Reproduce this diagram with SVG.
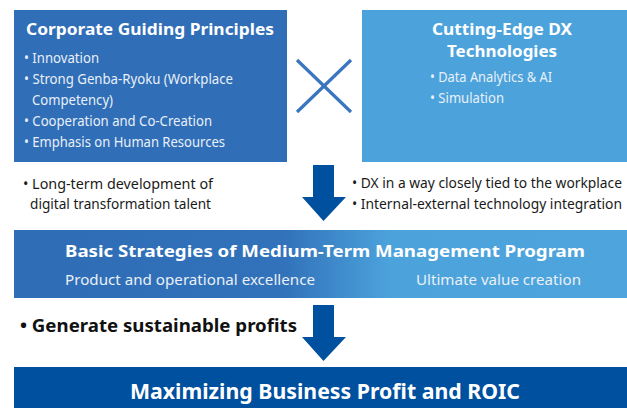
<svg xmlns="http://www.w3.org/2000/svg" width="627" height="408" viewBox="0 0 627 408">
  <style>
    .t { font-family: "Noto Sans", "Open Sans", "DejaVu Sans", sans-serif; }
    .title { font-weight: bold; fill: #ffffff; font-size: 16px; }
    .body { fill: #e9f0f8; font-size: 15px; }
    .dark { fill: #1a1a1a; font-size: 15px; }
    .arrow { fill: #0050a0; }
  </style>
  <defs>
    <linearGradient id="gStrat" x1="0" y1="0" x2="1" y2="0">
      <stop offset="0" stop-color="#2f6db6"/>
      <stop offset="0.43" stop-color="#3172ba"/>
      <stop offset="0.6" stop-color="#4ca3dc"/>
      <stop offset="1" stop-color="#4ea5dd"/>
    </linearGradient>
  </defs>

  <rect width="627" height="408" fill="#ffffff"/>

  <g id="corporate-guiding-principles">
    <rect x="14" y="10" width="273" height="152" fill="#306eb7"/>
    <text class="t title" x="26" y="35" textLength="248" lengthAdjust="spacingAndGlyphs">Corporate Guiding Principles</text>
    <text class="t body" x="24" y="63" textLength="75" lengthAdjust="spacingAndGlyphs">• Innovation</text>
    <text class="t body" x="24" y="84" textLength="209" lengthAdjust="spacingAndGlyphs">• Strong Genba-Ryoku (Workplace</text>
    <text class="t body" x="32" y="105" textLength="81" lengthAdjust="spacingAndGlyphs">Competency)</text>
    <text class="t body" x="24" y="126" textLength="188" lengthAdjust="spacingAndGlyphs">• Cooperation and Co-Creation</text>
    <text class="t body" x="24" y="147" textLength="201" lengthAdjust="spacingAndGlyphs">• Emphasis on Human Resources</text>
  </g>

  <g id="cross">
    <line x1="297" y1="60" x2="351" y2="112" stroke="#3a76bf" stroke-width="3.2"/>
    <line x1="297" y1="112" x2="351" y2="60" stroke="#3a76bf" stroke-width="3.2"/>
  </g>

  <g id="cutting-edge-dx">
    <rect x="362" y="10" width="280" height="152" fill="#4ca3dc"/>
    <text class="t title" x="432" y="35" textLength="140" lengthAdjust="spacingAndGlyphs">Cutting-Edge DX</text>
    <text class="t title" x="447" y="57" textLength="110" lengthAdjust="spacingAndGlyphs">Technologies</text>
    <text class="t body" x="430" y="82" textLength="122" lengthAdjust="spacingAndGlyphs">• Data Analytics &amp; AI</text>
    <text class="t body" x="430" y="103" textLength="74" lengthAdjust="spacingAndGlyphs">• Simulation</text>
  </g>

  <g id="notes-left">
    <text class="t dark" x="23" y="189" textLength="190" lengthAdjust="spacingAndGlyphs">• Long-term development of</text>
    <text class="t dark" x="30" y="209" textLength="181" lengthAdjust="spacingAndGlyphs">digital transformation talent</text>
  </g>

  <g id="notes-right">
    <text class="t dark" x="352" y="188" font-size="13.5" textLength="270" lengthAdjust="spacingAndGlyphs">• DX in a way closely tied to the workplace</text>
    <text class="t dark" x="352" y="209" font-size="13.5" textLength="270" lengthAdjust="spacingAndGlyphs">• Internal-external technology integration</text>
  </g>

  <g id="basic-strategies">
    <rect x="14" y="230" width="628" height="68" fill="url(#gStrat)"/>
    <text class="t title" x="65" y="257" font-size="17" textLength="520" lengthAdjust="spacingAndGlyphs">Basic Strategies of Medium-Term Management Program</text>
    <text class="t body" x="65" y="285" font-size="16" textLength="250" lengthAdjust="spacingAndGlyphs">Product and operational excellence</text>
    <text class="t body" x="416" y="285" font-size="16" textLength="165" lengthAdjust="spacingAndGlyphs">Ultimate value creation</text>
  </g>

  <g id="note-profits">
    <text class="t" x="20" y="332" font-size="17" font-weight="bold" fill="#111111" textLength="277" lengthAdjust="spacingAndGlyphs">• Generate sustainable profits</text>
  </g>

  <g id="maximizing">
    <rect x="14" y="367" width="628" height="50" fill="#0050a0"/>
    <text class="t" x="130" y="399" font-size="21" font-weight="bold" fill="#ffffff" textLength="390" lengthAdjust="spacingAndGlyphs">Maximizing Business Profit and ROIC</text>
  </g>

  <g id="connectors">
    <path class="arrow" d="M313,165 H334 V197 H346 L323.5,221 L302,197 H313 Z"/>
    <path class="arrow" d="M313,305 H334 V337 H346 L323.5,361 L302,337 H313 Z"/>
  </g>
</svg>
